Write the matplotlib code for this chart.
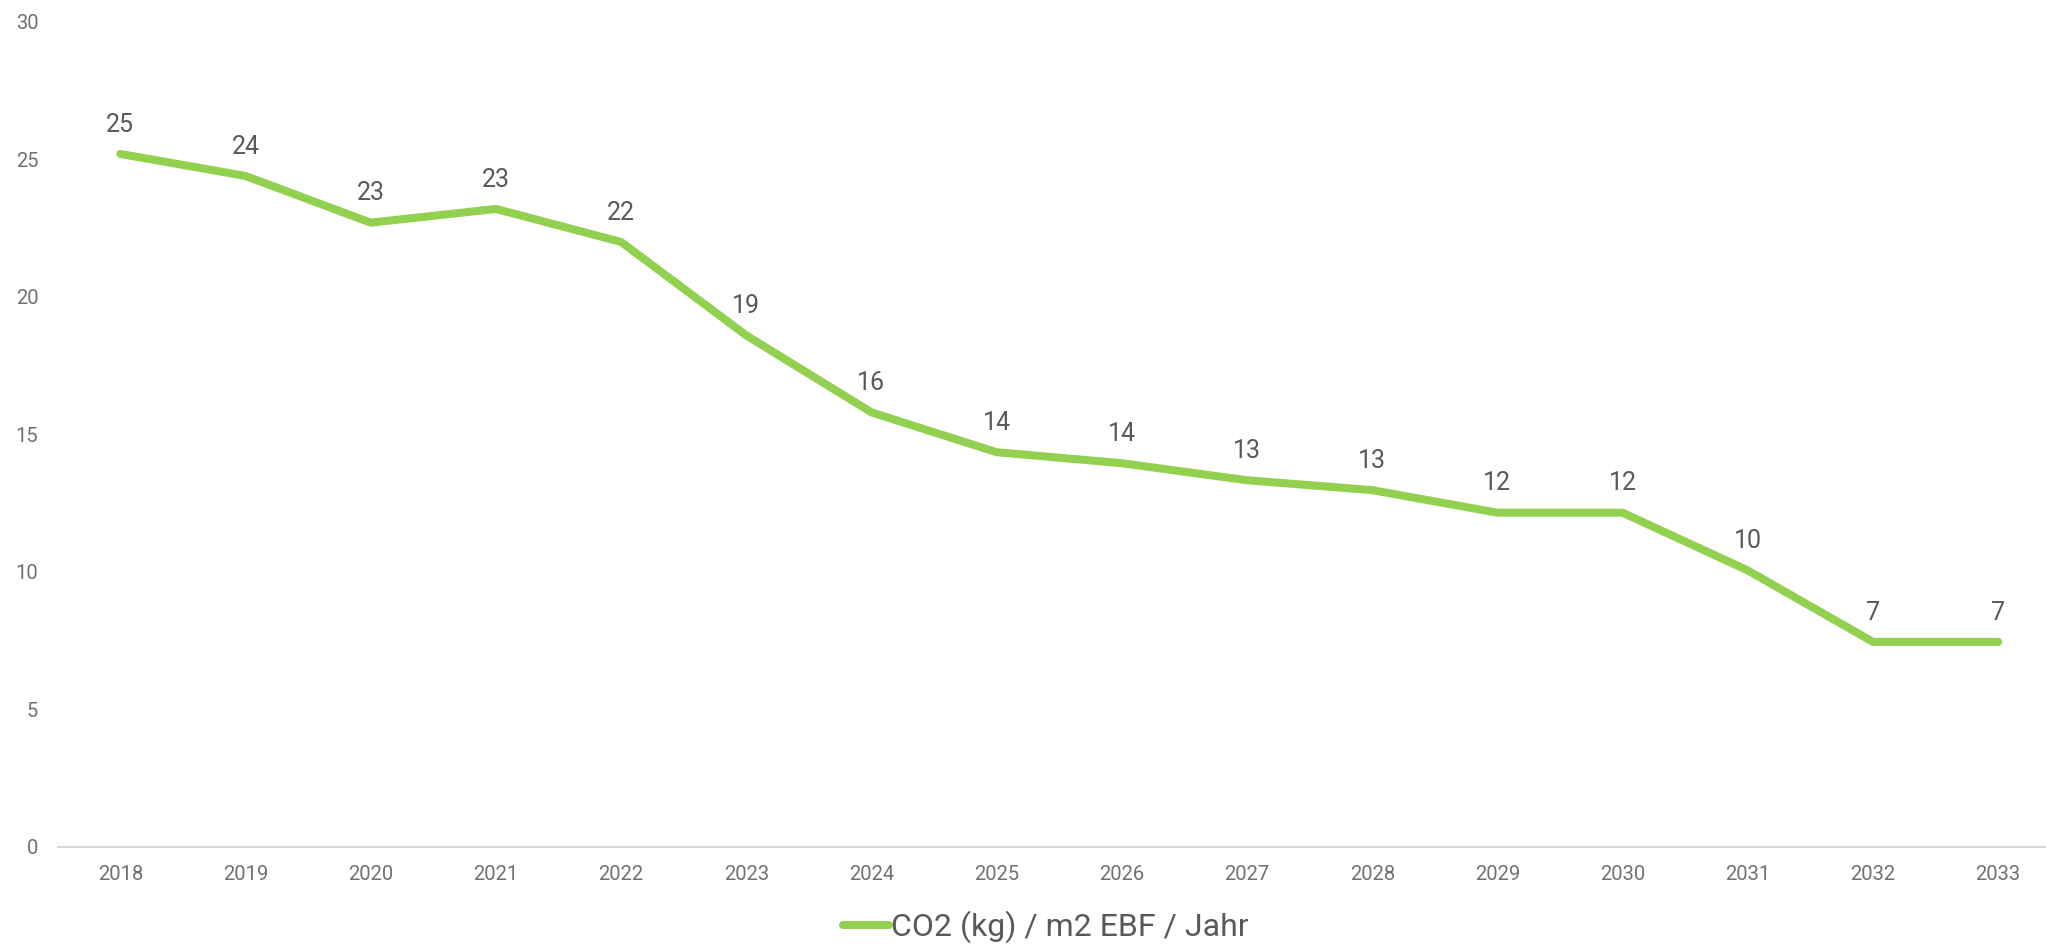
import matplotlib
matplotlib.use('Agg')
import matplotlib.pyplot as plt

years = ['2018', '2019', '2020', '2021', '2022', '2023', '2024', '2025',
         '2026', '2027', '2028', '2029', '2030', '2031', '2032', '2033']
co2 = [25.2, 24.4, 22.7, 23.2, 22.0, 18.6, 15.8, 14.35,
       13.95, 13.33, 12.97, 12.15, 12.15, 10.05, 7.45, 7.45]
series_name = 'CO2 (kg) / m2 EBF / Jahr'
yticks = [0, 5, 10, 15, 20, 25, 30]

GREEN = '#92D050'
GRAY = '#595959'

plt.rcParams['font.family'] = ['Roboto', 'DejaVu Sans']

fig = plt.figure(figsize=(20.46, 9.44), dpi=100)
ax = fig.add_axes([0.0282, 0.1031, 0.979, 0.8736])

x = list(range(len(years)))
ax.plot(x, co2, color=GREEN, linewidth=5.8, solid_capstyle='round',
        solid_joinstyle='round', label=series_name)

# Datenbeschriftungen
for xi, v in zip(x, co2):
    ax.annotate(f'{round(v)}', (xi, v), xytext=(0, 16), textcoords='offset points',
                ha='center', va='baseline', fontsize=18, color=GRAY)

ax.set_xlim(-0.5, len(years) - 0.5)
ax.set_ylim(0, 30)
ax.set_xticks(x)
ax.set_xticklabels(years)
ax.set_yticks(yticks)
ax.tick_params(axis='both', length=0, labelsize=14.5, labelcolor='#707070')
ax.tick_params(axis='y', pad=14)
ax.tick_params(axis='x', pad=13)

for s in ['top', 'right', 'left']:
    ax.spines[s].set_visible(False)
ax.spines['bottom'].set_color('#d9d9d9')
ax.spines['bottom'].set_linewidth(1.5)

leg = fig.legend(loc='center', bbox_to_anchor=(0.511, 1 - 926.7 / 944),
                 frameon=False, handlelength=1.45, handletextpad=0.05,
                 prop={'size': 23})
for t in leg.get_texts():
    t.set_color(GRAY)

fig.savefig('out.png', dpi=100, facecolor='white')
